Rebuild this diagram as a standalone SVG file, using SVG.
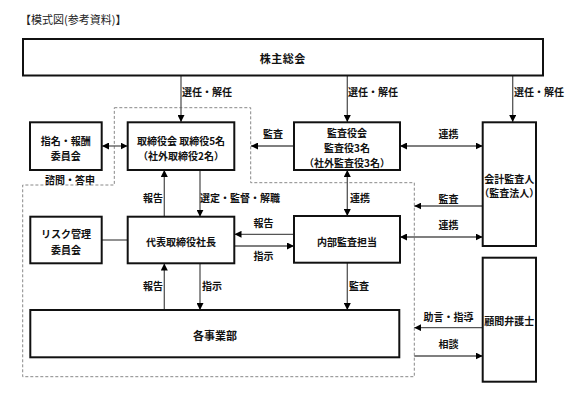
<svg xmlns="http://www.w3.org/2000/svg" width="569" height="398" viewBox="0 0 569 398">
<defs>
<marker id="ah" viewBox="0 0 10 10" refX="10" refY="5" markerWidth="7" markerHeight="7" markerUnits="userSpaceOnUse" orient="auto-start-reverse">
<path d="M0,0 L10,5 L0,10 z" fill="#000"/>
</marker>
<style>
text{font-family:"Noto Sans CJK JP","Noto Sans",sans-serif;font-size:10px;font-weight:bold;fill:#111;text-anchor:middle;dominant-baseline:central}
.box{fill:#fff;stroke:#111;stroke-width:2}
.c{fill:none;stroke:#555;stroke-width:1.3}
.a{marker-end:url(#ah)}
.b{marker-start:url(#ah);marker-end:url(#ah)}
.dash{fill:none;stroke:#888;stroke-width:1;stroke-dasharray:3,2}
.lbl{font-size:10px}
.title{font-weight:normal;font-size:11px;text-anchor:start;fill:#222}
</style>
</defs>
<rect width="569" height="398" fill="#fff"/>
<text class="title" x="20" y="19">【模式図(参考資料)】</text>

<polygon class="dash" points="114.3,107.7 250.7,107.7 250.7,182.7 414.3,182.7 414.3,376.7 22.7,376.7 22.7,185 114.3,185"/>

<g id="connectors">
<line class="c a" x1="181" y1="75" x2="181" y2="122"/>
<line class="c a" x1="347.3" y1="75" x2="347.3" y2="122"/>
<line class="c a" x1="512.7" y1="75" x2="512.7" y2="122"/>
<line class="c b" x1="102" y1="146" x2="127.5" y2="146"/>
<line class="c a" x1="294" y1="146" x2="251" y2="146"/>
<line class="c b" x1="400" y1="146" x2="482.7" y2="146"/>
<line class="c a" x1="164.3" y1="216.7" x2="164.3" y2="170"/>
<line class="c a" x1="200" y1="170" x2="200" y2="216.7"/>
<line class="c b" x1="347.3" y1="170" x2="347.3" y2="216"/>
<line class="c a" x1="482.7" y1="206" x2="414.3" y2="206"/>
<line class="c b" x1="400" y1="237" x2="482.7" y2="237"/>
<line class="c" x1="101.7" y1="240" x2="127.7" y2="240"/>
<line class="c a" x1="294" y1="234.3" x2="234.5" y2="234.3"/>
<line class="c a" x1="234.3" y1="246" x2="294" y2="246"/>
<line class="c a" x1="164.3" y1="310" x2="164.3" y2="263.5"/>
<line class="c a" x1="200" y1="263.3" x2="200" y2="310"/>
<line class="c a" x1="347.3" y1="262.7" x2="347.3" y2="310"/>
<line class="c a" x1="482.7" y1="327.7" x2="414.3" y2="327.7"/>
<line class="c a" x1="414.3" y1="356" x2="482.7" y2="356"/>
<text class="lbl" x="207" y="91">選任・解任</text>
<text class="lbl" x="373" y="91">選任・解任</text>
<text class="lbl" x="539" y="91">選任・解任</text>
<text class="lbl" x="70" y="179">諮問・答申</text>
<text class="lbl" x="273" y="133.5">監査</text>
<text class="lbl" x="448.5" y="133.5">連携</text>
<text class="lbl" x="153" y="197">報告</text>
<text class="lbl" x="240" y="197">選定・監督・解職</text>
<text class="lbl" x="360" y="197.5">連携</text>
<text class="lbl" x="448.5" y="198">監査</text>
<text class="lbl" x="448.5" y="224.5">連携</text>
<text class="lbl" x="263.5" y="222.5">報告</text>
<text class="lbl" x="263.5" y="255">指示</text>
<text class="lbl" x="153" y="285">報告</text>
<text class="lbl" x="212" y="285">指示</text>
<text class="lbl" x="359" y="285">監査</text>
<text class="lbl" x="448.5" y="316">助言・指導</text>
<text class="lbl" x="448.5" y="343.5">相談</text>
</g>

<g id="kabunushi">
<rect class="box" x="23" y="39" width="520" height="36.5"/>
<text x="282.7" y="58" style="font-size:11px;letter-spacing:0.5px">株主総会</text>
</g>
<g id="shimei">
<rect class="box" x="30" y="122.3" width="71.7" height="47.7"/>
<text x="65.8" y="140">指名・報酬</text>
<text x="65.8" y="155.5">委員会</text>
</g>
<g id="torishimariyakukai">
<rect class="box" x="127.7" y="122.3" width="106.6" height="47.7"/>
<text x="181" y="140">取締役会 取締役5名</text>
<text x="181" y="155.5">（社外取締役2名）</text>
</g>
<g id="kansayakukai">
<rect class="box" x="294" y="122.3" width="106" height="47.7"/>
<text x="347" y="132.7">監査役会</text>
<text x="347" y="147">監査役3名</text>
<text x="347" y="162">（社外監査役3名）</text>
</g>
<g id="kaikei">
<rect class="box" x="482.7" y="122.3" width="53.3" height="123.7"/>
<text x="509.3" y="178.5">会計監査人</text>
<text x="509.3" y="192.7">（監査法人）</text>
</g>
<g id="risk">
<rect class="box" x="30.3" y="216.7" width="71.4" height="46.6"/>
<text x="66" y="233.3">リスク管理</text>
<text x="66" y="249.3">委員会</text>
</g>
<g id="daihyo">
<rect class="box" x="127.7" y="216.7" width="106.6" height="46.6"/>
<text x="181" y="241.7">代表取締役社長</text>
</g>
<g id="naibu">
<rect class="box" x="294" y="216" width="106" height="46.7"/>
<text x="347" y="241.7">内部監査担当</text>
</g>
<g id="kakujigyobu">
<rect class="box" x="30.3" y="310" width="369" height="47.3"/>
<text x="215" y="335" style="font-size:11px">各事業部</text>
</g>
<g id="komon">
<rect class="box" x="482.7" y="257.7" width="53.3" height="124"/>
<text x="509.3" y="320.7">顧問弁護士</text>
</g>
</svg>
